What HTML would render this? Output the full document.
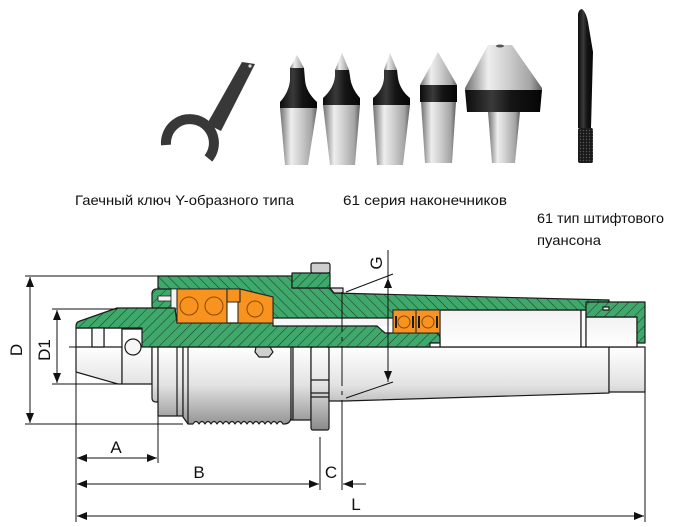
<!DOCTYPE html>
<html><head><meta charset="utf-8"><style>
html,body{margin:0;padding:0;background:#fff;}
svg{display:block;}
text{font-family:"Liberation Sans","DejaVu Sans",sans-serif;}
</style></head><body>
<svg width="685" height="527" viewBox="0 0 685 527" xmlns="http://www.w3.org/2000/svg">
<defs>
  <pattern id="h1" patternUnits="userSpaceOnUse" width="7" height="7" patternTransform="rotate(45)">
    <rect width="7" height="7" fill="#3fa96c"/>
    <line x1="0" y1="0" x2="0" y2="7" stroke="#1d3b29" stroke-width="1.1"/>
  </pattern>
  <pattern id="h2" patternUnits="userSpaceOnUse" width="7" height="7" patternTransform="rotate(-45)">
    <rect width="7" height="7" fill="#3fa96c"/>
    <line x1="0" y1="0" x2="0" y2="7" stroke="#1d3b29" stroke-width="1.1"/>
  </pattern>
  <linearGradient id="gb" gradientUnits="userSpaceOnUse" x1="0" y1="347" x2="0" y2="430">
    <stop offset="0" stop-color="#ffffff"/><stop offset="0.45" stop-color="#e3e3e3"/><stop offset="1" stop-color="#8a8a8a"/>
  </linearGradient>
  <linearGradient id="gw" x1="0" y1="0" x2="0" y2="1">
    <stop offset="0" stop-color="#f2f2f2"/><stop offset="1" stop-color="#ffffff"/>
  </linearGradient>
  <linearGradient id="sv" x1="0" y1="0" x2="1" y2="0">
    <stop offset="0" stop-color="#6f6f6f"/><stop offset="0.3" stop-color="#eeeeee"/><stop offset="0.55" stop-color="#cfcfcf"/><stop offset="0.85" stop-color="#a4a4a4"/><stop offset="1" stop-color="#5e5e5e"/>
  </linearGradient>
  <linearGradient id="bk" x1="0" y1="0" x2="1" y2="0">
    <stop offset="0" stop-color="#0c0c0c"/><stop offset="0.35" stop-color="#3a3a3a"/><stop offset="0.6" stop-color="#151515"/><stop offset="1" stop-color="#050505"/>
  </linearGradient>
  <pattern id="kn" patternUnits="userSpaceOnUse" width="3" height="3">
    <rect width="3" height="3" fill="#1a1a1a"/><circle cx="1.5" cy="1.5" r="0.7" fill="#555"/>
  </pattern>
  <marker id="ar" viewBox="0 0 10 8" refX="10" refY="4" markerWidth="10" markerHeight="8" markerUnits="userSpaceOnUse" orient="auto">
    <path d="M0,0 L10,4 L0,8 z" fill="#111"/>
  </marker>
</defs>

<!-- ===== Photos ===== -->
<!-- wrench -->
<g fill="#383838">
  <polygon points="242,62 255,64 221,131 207,124"/>
  <path d="M166,145 A24,24 0 1 1 208.4,158.4" fill="none" stroke="#383838" stroke-width="10"/>
  <circle cx="250" cy="66" r="1.6" fill="#ddd"/>
</g>
<!-- tip 1 -->
<polygon points="280,108 317,108 308,165 285,165" fill="url(#sv)"/>
<path d="M280,108 L280,102 Q289,92 290,80 L290,68 L304,68 L305,80 Q306,92 317,102 L317,108 Z" fill="url(#bk)"/>
<polygon points="290,68 297,55 304,68" fill="url(#sv)"/>
<!-- tip 2 -->
<polygon points="323,105 360,105 355,165 330,165" fill="url(#sv)"/>
<path d="M323,105 L323,98 Q334,88 335,76 L335,70 L349,70 L350,76 Q351,88 360,98 L360,105 Z" fill="url(#bk)"/>
<polygon points="335,70 342,53 349,70" fill="url(#sv)"/>
<!-- tip 3 -->
<polygon points="373,105 410,105 403,165 377,165" fill="url(#sv)"/>
<path d="M373,105 L373,98 Q383,90 384,78 L384,70 L397,70 L398,78 Q400,90 410,98 L410,105 Z" fill="url(#bk)"/>
<polygon points="384,70 390,53 397,70" fill="url(#sv)"/>
<!-- tip 4 -->
<polygon points="421,102 456,102 452,163 425,163" fill="url(#sv)"/>
<rect x="420" y="85" width="37" height="17" fill="url(#bk)"/>
<polygon points="438,52 457,85 420,85" fill="url(#sv)"/>
<!-- tip 5 -->
<polygon points="488,112 520,112 515,163 492,163" fill="url(#sv)"/>
<polygon points="465,90 542,90 540,112 467,112" fill="url(#bk)"/>
<polygon points="488,45 512,45 542,88 542,90 465,90 465,88" fill="url(#sv)"/>
<ellipse cx="500" cy="46" rx="4" ry="1.5" fill="#555"/>
<!-- punch -->
<path d="M578,14 Q579,9 582,9 Q586,12 588,22 L593,52 L591,128 L578,128 Z" fill="url(#bk)"/>
<rect x="578" y="128" width="15" height="35" rx="2" fill="url(#kn)"/>

<!-- captions -->
<text x="75" y="205" font-size="14" fill="#111" textLength="219" lengthAdjust="spacingAndGlyphs">Гаечный ключ Y-образного типа</text>
<text x="343" y="205" font-size="14" fill="#111" textLength="164" lengthAdjust="spacingAndGlyphs">61 серия наконечников</text>
<text x="537" y="223" font-size="14" fill="#111" textLength="127" lengthAdjust="spacingAndGlyphs">61 тип штифтового</text>
<text x="537" y="245" font-size="14" fill="#111" textLength="64" lengthAdjust="spacingAndGlyphs">пуансона</text>

<!-- ===== Drawing ===== -->
<g stroke="#1a1a1a" stroke-width="1.2" stroke-linejoin="round">
  <!-- lower body (outside view) -->
  <path d="M76,328 L122,328 L122,384 L118,384 L76,372 Z" fill="url(#gb)"/>
  <rect x="122" y="329" width="30" height="55" fill="url(#gb)"/>
  <path d="M152,347 L158,347 L158,402 L156,402 Q152,402 152,398 Z" fill="url(#gb)"/>
  <rect x="158" y="347" width="25" height="69" fill="url(#gb)"/>
  <path d="M183,347 L291,347 L291,418 Q290,424 284,424 L283,424 Q280,419 277,424 Q274,419 271,424 Q268,419 265,424 Q262,419 259,424 Q256,419 253,424 Q250,419 247,424 Q244,419 241,424 Q238,419 235,424 Q232,419 229,424 Q226,419 223,424 Q220,419 217,424 Q214,419 211,424 Q208,419 205,424 Q202,419 199,424 Q196,419 193,424 L188,424 L183,417 Z" fill="url(#gb)"/>
  <rect x="291" y="347" width="2" height="73" fill="url(#gb)"/>
  <rect x="293" y="347" width="18" height="73" fill="url(#gb)"/>
  <rect x="311" y="347" width="18" height="83" rx="2" fill="url(#gb)"/>
  <polygon points="329,347 609,347 609,393 345,401 329,401" fill="url(#gb)"/>
  <rect x="609" y="347" width="36" height="45" fill="url(#gb)"/>
  <!-- internal lines of body -->
  <line x1="177" y1="347" x2="177" y2="416"/>
  <line x1="188" y1="347" x2="188" y2="424"/>
  <line x1="311" y1="380" x2="329" y2="380"/>
  <line x1="311" y1="393" x2="329" y2="393"/>
  <line x1="311" y1="397" x2="329" y2="397"/>
  <line x1="92" y1="328" x2="92" y2="347"/>
  <line x1="104" y1="328" x2="104" y2="347"/>
  <line x1="76" y1="347" x2="122" y2="347"/>
  <circle cx="133" cy="347" r="8" fill="#f6f6f6"/>
  <polygon points="256,347 270,347 273,352 269,357 259,357 255,352" fill="#cfcfcf"/>

  <!-- white bores -->
  <rect x="273" y="318" width="120" height="8" fill="#f7f7f7" stroke="none"/>
  <rect x="440" y="310" width="141" height="37" fill="url(#gw)"/>
  <rect x="581" y="310" width="5" height="37" fill="#fafafa"/>
  <rect x="586" y="317" width="51" height="30" fill="url(#gw)"/>

  <!-- housing -->
  <polygon points="158,276 292,276 292,288 330,288 334,293 609,300 609,310 393,310 393,318 273,318 273,297 240,289 175,289 175,292 158,292" fill="url(#h2)"/>
  <polygon points="586,302 645,302 645,343 637,343 637,317 586,317" fill="url(#h1)"/>
  <rect x="603" y="307" width="6" height="3" fill="#fff"/>
  <polygon points="330,288 343,288 343,293 334,293" fill="#d8d8d8"/>
  <!-- nut & cap -->
  <rect x="292" y="273" width="38" height="15" fill="url(#h1)"/>
  <rect x="311" y="263" width="19" height="10" rx="2" fill="#cdcdcd"/>
  <!-- left cap -->
  <rect x="152" y="289" width="25" height="21" rx="4" fill="url(#h1)"/>
  <rect x="158" y="296" width="14" height="5" fill="#f2f2f2" stroke-width="0.8"/>
  <rect x="171" y="289" width="6" height="20" fill="#f2f2f2" stroke-width="0.8"/>

  <!-- spindle -->
  <path d="M76,326 Q76,322 80,321 L117,308 L175,308 L177,323 L273,323 L273,326 L377,326 L385,333 L436,333 Q440,334 440,338 L440,343 L430,343 L430,347 L142,347 L142,328 L76,328 Z" fill="url(#h1)"/>
  <rect x="92" y="328" width="12" height="19" fill="#fafafa"/>
  <rect x="430" y="343" width="10" height="4" fill="#fff"/>

  <!-- bearings -->
  <g fill="#f7931e" stroke="#2a2a2a" stroke-width="1.1">
    <rect x="177" y="289" width="50" height="34"/>
    <rect x="227" y="289" width="13" height="13"/>
    <polygon points="240,289 273,297 273,323 238,323 238,302 240,302"/>
    <rect x="393" y="310" width="47" height="23"/>
    <line x1="416" y1="310" x2="416" y2="333"/>
  </g>
  <g fill="none" stroke="#8a4a00" stroke-width="1">
    <circle cx="189" cy="306" r="9"/><circle cx="214" cy="306" r="9"/>
    <circle cx="255" cy="309" r="8"/>
    <circle cx="404" cy="322" r="6"/><circle cx="428" cy="322" r="6"/>
  </g>
  <g stroke="#1a1a1a" stroke-width="2">
    <line x1="396" y1="316" x2="396" y2="328"/><line x1="413" y1="316" x2="413" y2="328"/>
    <line x1="419" y1="316" x2="419" y2="328"/><line x1="437" y1="316" x2="437" y2="328"/>
  </g>
</g>

<!-- dimension lines -->
<g stroke="#111" stroke-width="1" fill="none">
  <line x1="25" y1="276" x2="158" y2="276"/>
  <line x1="25" y1="424" x2="183" y2="424"/>
  <line x1="52" y1="309" x2="117" y2="309"/>
  <line x1="52" y1="384" x2="120" y2="384"/>
  <line x1="69" y1="347" x2="76" y2="347"/>
  <line x1="30" y1="300" x2="30" y2="277" marker-end="url(#ar)"/>
  <line x1="30" y1="400" x2="30" y2="423" marker-end="url(#ar)"/>
  <line x1="30" y1="290" x2="30" y2="410"/>
  <line x1="57" y1="330" x2="57" y2="310" marker-end="url(#ar)"/>
  <line x1="57" y1="360" x2="57" y2="383" marker-end="url(#ar)"/>
  <line x1="57" y1="320" x2="57" y2="370"/>
  <!-- verticals -->
  <line x1="76" y1="372" x2="76" y2="522"/>
  <line x1="158" y1="402" x2="158" y2="463"/>
  <line x1="320" y1="437" x2="320" y2="490"/>
  <line x1="342" y1="430" x2="342" y2="490"/>
  <line x1="645" y1="392" x2="645" y2="522"/>
  <line x1="342" y1="292" x2="342" y2="430" stroke-dasharray="40,5,4,5"/>
  <!-- A B C L -->
  <line x1="100" y1="458" x2="77" y2="458" marker-end="url(#ar)"/>
  <line x1="130" y1="458" x2="157" y2="458" marker-end="url(#ar)"/>
  <line x1="90" y1="458" x2="140" y2="458"/>
  <line x1="150" y1="484" x2="77" y2="484" marker-end="url(#ar)"/>
  <line x1="150" y1="484" x2="319" y2="484" marker-end="url(#ar)"/>
  <line x1="366" y1="484" x2="343" y2="484" marker-end="url(#ar)"/>
  <line x1="300" y1="516" x2="77" y2="516" marker-end="url(#ar)"/>
  <line x1="300" y1="516" x2="644" y2="516" marker-end="url(#ar)"/>
  <!-- G -->
  <line x1="346" y1="292" x2="393" y2="274"/>
  <line x1="346" y1="398" x2="393" y2="382"/>
  <line x1="388" y1="250" x2="388" y2="382"/>
  <line x1="388" y1="300" x2="388" y2="278" marker-end="url(#ar)"/>
  <line x1="388" y1="360" x2="388" y2="381" marker-end="url(#ar)"/>
</g>

<g font-size="17" fill="#111">
  <text transform="translate(22,350) rotate(-90)" text-anchor="middle">D</text>
  <text transform="translate(50,350) rotate(-90)" text-anchor="middle">D1</text>
  <text transform="translate(382,263) rotate(-90)" text-anchor="middle">G</text>
  <text x="116" y="453" text-anchor="middle">A</text>
  <text x="199" y="478" text-anchor="middle">B</text>
  <text x="331" y="478" text-anchor="middle">C</text>
  <text x="356" y="510" text-anchor="middle">L</text>
</g>
</svg>
</body></html>
